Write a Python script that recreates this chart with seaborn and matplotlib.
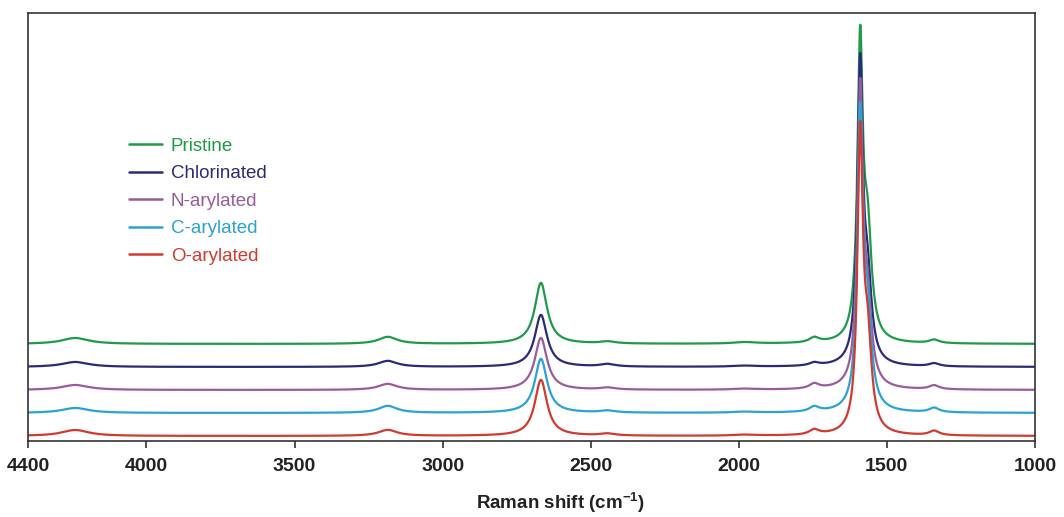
import numpy as np
import pandas as pd
import seaborn as sns
import matplotlib.pyplot as plt

# Peak positions (cm-1) and half widths
peak_pos = [4240, 3185, 2668, 2442, 1979, 1745, 1590, 1565, 1340]
peak_hwhm = [55, 38, 25, 30, 45, 20, 11, 16, 20]

# Peak heights per sample (same order as peak_pos), and vertical offsets
samples = ["Pristine", "Chlorinated", "N-arylated", "C-arylated", "O-arylated"]
h_pristine = [6, 7, 61, 2.0, 1.5, 5, 290, 100, 3.5]
h_chlorinated = [5, 6, 52, 2.5, 1.0, 3, 292, 75, 3.0]
h_narylated = [5, 6, 52, 2.0, 1.0, 5, 290, 75, 4.0]
h_carylated = [5, 7, 54, 2.0, 1.0, 5, 286, 85, 4.5]
h_oarylated = [6, 6, 56, 2.0, 1.0, 5, 290, 85, 4.5]
offsets = [97, 74, 51, 28, 5]
colors = ["#1f9a4b", "#2b2a78", "#9a5b9d", "#2aa2d6", "#d23a30"]

x_ticks = [4400, 4000, 3500, 3000, 2500, 2000, 1500, 1000]

shift = np.arange(1000, 4401, 1.0)
frames = []
for name, heights, base in zip(samples,
                               [h_pristine, h_chlorinated, h_narylated, h_carylated, h_oarylated],
                               offsets):
    y = np.full_like(shift, base)
    for c, w, h in zip(peak_pos, peak_hwhm, heights):
        y = y + h / (1 + ((shift - c) / w) ** 2)
    frames.append(pd.DataFrame({"shift": shift, "intensity": y, "sample": name}))
df = pd.concat(frames, ignore_index=True)

sns.set_style("ticks")
plt.rcParams["font.family"] = ["Liberation Sans", "DejaVu Sans"]
plt.rcParams["mathtext.fontset"] = "custom"
plt.rcParams["mathtext.rm"] = "Liberation Sans:bold"
plt.rcParams["mathtext.default"] = "rm"

fig = plt.figure(figsize=(10.64, 5.17), dpi=100)
ax = fig.add_axes([0.0263, 0.147, 0.9464, 0.828])

sns.lineplot(data=df, x="shift", y="intensity", hue="sample", hue_order=samples,
             palette=colors, linewidth=1.6, estimator=None, sort=False, ax=ax)

ax.set_xlim(4400, 1000)
ax.set_ylim(0, 428)
ax.set_xticks(x_ticks)
ax.set_xticklabels([str(t) for t in x_ticks], fontsize=14, fontweight="bold", color="#222222")
ax.set_yticks([])
ax.set_ylabel("")
ax.set_xlabel("Raman shift (cm$^{-1}$)", fontsize=13.5, fontweight="bold", color="#222222")
ax.xaxis.set_label_coords(0.529, -0.117)
ax.tick_params(axis="x", direction="out", length=5, width=1.2, color="#333333", pad=7)
for sp in ax.spines.values():
    sp.set_linewidth(1.2)
    sp.set_color("#333333")

leg = ax.legend(loc="upper left", bbox_to_anchor=(0.084, 0.748), frameon=False,
                fontsize=13.5, handlelength=1.76, handletextpad=0.45, labelspacing=0.55,
                labelcolor="linecolor")
for line in leg.get_lines():
    line.set_linewidth(1.8)

fig.savefig("out.png", dpi=100)
